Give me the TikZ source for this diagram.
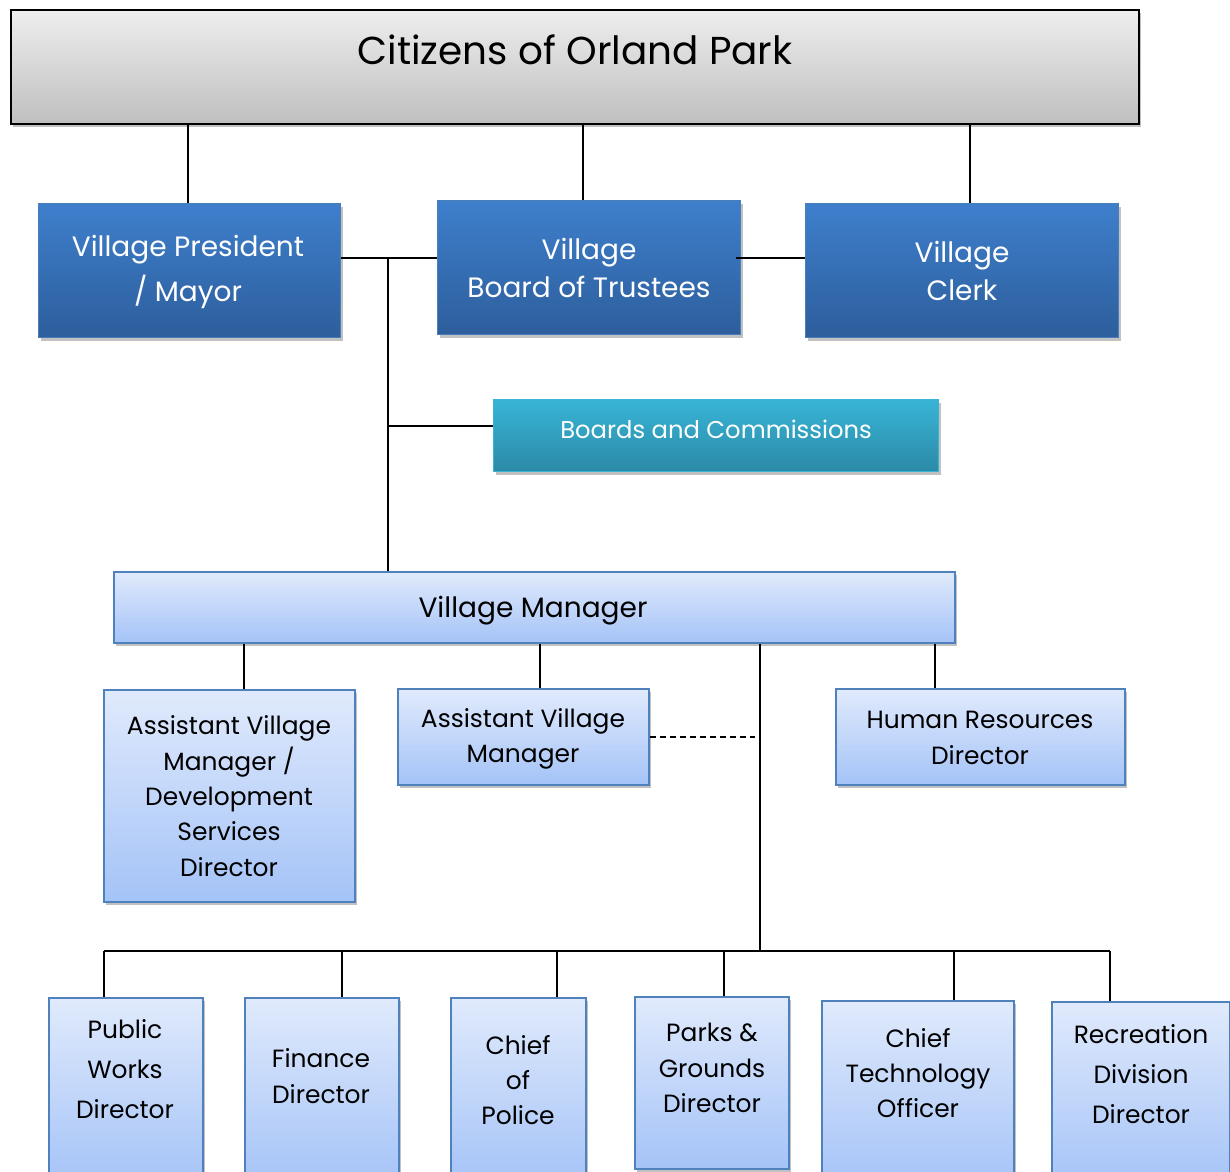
\documentclass[tikz,border=0pt]{standalone}
\usepackage{fontspec}
\setmainfont{Poppins}
\usetikzlibrary{shadows,calc}
\definecolor{dbtop}{HTML}{3E7FCC}
\definecolor{dbbot}{HTML}{2D5E9C}
\definecolor{dbline}{HTML}{4A7EBB}
\definecolor{cytop}{HTML}{38B4D6}
\definecolor{cybot}{HTML}{2B8AA6}
\definecolor{lbtop}{HTML}{E0EAFC}
\definecolor{lbbot}{HTML}{A4C3F7}
\definecolor{lbline}{HTML}{4F81BD}
\definecolor{grtop}{HTML}{EEEEEE}
\definecolor{grbot}{HTML}{BFBFBF}
\begin{document}
\begin{tikzpicture}[x=0.75pt,y=-0.75pt,
  shad/.style={drop shadow={shadow xshift=1.5pt,shadow yshift=-2.2pt,opacity=0.35,fill=black!70}},
  basebox/.style={rectangle,anchor=north west,inner sep=0pt,shad},
  graybox/.style={basebox,draw=black,line width=1.5pt,top color=grtop,bottom color=grbot},
  darkbox/.style={basebox,draw=dbline,line width=1pt,top color=dbtop,bottom color=dbbot},
  cyanbox/.style={basebox,draw=cytop,line width=1pt,top color=cytop,bottom color=cybot},
  lightbox/.style={basebox,draw=lbline,line width=1.5pt,top color=lbtop,bottom color=lbbot},
  wtxt/.style={text=white,align=center,font=\fontsize{21}{29}\selectfont},
  btxt/.style={text=black,align=center,font=\fontsize{18.7}{26.5}\selectfont},
  conn/.style={draw=black,line width=1.4pt},
]
\useasboundingbox (0,0) rectangle (1230,1171);
% boxes
\node[graybox,minimum width=846pt,minimum height=85.5pt] (cit) at (10,9) {};
\node[darkbox,minimum width=226.5pt,minimum height=100.5pt] (vp) at (38,203) {};
\node[darkbox,minimum width=227.25pt,minimum height=100.5pt] (bot) at (437,200) {};
\node[darkbox,minimum width=234.75pt,minimum height=100.5pt] (clerk) at (805,203) {};
\node[cyanbox,minimum width=333.75pt,minimum height=54pt] (bc) at (493,399) {};
\node[lightbox,minimum width=630.75pt,minimum height=53.25pt] (vm) at (113,571) {};
\node[lightbox,minimum width=188.25pt,minimum height=159pt] (avmd) at (103,689) {};
\node[lightbox,minimum width=188.25pt,minimum height=72pt] (avm) at (397,688) {};
\node[lightbox,minimum width=216.75pt,minimum height=72pt] (hr) at (835,688) {};
\node[lightbox,minimum width=115.5pt,minimum height=140pt] (pw) at (48,997) {};
\node[lightbox,minimum width=115.5pt,minimum height=140pt] (fin) at (244,997) {};
\node[lightbox,minimum width=101.25pt,minimum height=140pt] (pol) at (450,997) {};
\node[lightbox,minimum width=115.5pt,minimum height=129pt] (parks) at (634,996) {};
\node[lightbox,minimum width=144pt,minimum height=140pt] (cto) at (821,1000) {};
\node[lightbox,minimum width=133.5pt,minimum height=140pt] (rec) at (1051,1001) {};
% texts
\node[text=black,font=\fontsize{29.2}{34}\selectfont] (citt) at (575,50) {Citizens of Orland Park};
\node[wtxt,font=\fontsize{21}{33.75}\selectfont] (vpt) at (188,272) {Village President\\/ Mayor};
\node[wtxt] (bott) at (589,268) {Village\\Board of Trustees};
\node[wtxt] (clerkt) at (962,271) {Village\\Clerk};
\node[text=white,font=\fontsize{18.2}{24}\selectfont] (bct) at (716,429) {Boards and Commissions};
\node[text=black,font=\fontsize{21}{26}\selectfont] (vmt) at (533,611) {Village Manager};
\node[btxt] (avmdt) at (229,796) {Assistant Village\\Manager /\\Development\\Services\\Director};
\node[btxt] (avmt) at (523,739) {Assistant Village\\Manager};
\node[btxt] (hrt) at (980,738) {Human Resources\\Director};
\node[btxt,font=\fontsize{18.7}{30}\selectfont] (pwt) at (125,1069) {Public\\Works\\Director};
\node[btxt] (fint) at (321,1076) {Finance\\Director};
\node[btxt] (polt) at (518,1080) {Chief\\of\\Police};
\node[btxt] (parkst) at (712,1068) {Parks \&\\Grounds\\Director};
\node[btxt] (ctot) at (918,1073) {Chief\\Technology\\Officer};
\node[btxt,font=\fontsize{18.7}{30}\selectfont] (rect) at (1141,1074) {Recreation\\Division\\Director};
% junction coordinates
\coordinate (c1) at (188,0);
\coordinate (c2) at (583,0);
\coordinate (c3) at (970,0);
\coordinate (sp) at (388,258);
\coordinate (bcj) at (388,426);
\coordinate (m1) at (244,0);
\coordinate (m2) at (540,0);
\coordinate (m3) at (935,0);
\coordinate (dsp) at (760,951);
\coordinate (dashend) at (755,737);
\coordinate (d1) at (104,951);
\coordinate (d2) at (342,951);
\coordinate (d3) at (557,951);
\coordinate (d4) at (724,951);
\coordinate (d5) at (954,951);
\coordinate (d6) at (1110,951);
% connectors
\draw[conn] (c1 |- cit.south) -- (c1 |- vp.north);
\draw[conn] (c2 |- cit.south) -- (c2 |- bot.north);
\draw[conn] (c3 |- cit.south) -- (c3 |- clerk.north);
\draw[conn] (vp.east |- sp) -- (bot.west |- sp);
\draw[conn] ([xshift=-4pt]bot.east |- sp) -- (clerk.west |- sp);
\draw[conn] (sp) -- (sp |- vm.north);
\draw[conn] (bcj) -- (bc.west |- bcj);
\draw[conn] (m1 |- vm.south) -- (m1 |- avmd.north);
\draw[conn] (m2 |- vm.south) -- (m2 |- avm.north);
\draw[conn] (m3 |- vm.south) -- (m3 |- hr.north);
\draw[conn] (dsp |- vm.south) -- (dsp);
\draw[conn,dashed,line width=1pt,dash pattern=on 4.5pt off 3pt] (avm.east |- dashend) -- (dashend);
\draw[conn] (d1) -- (d6);
\draw[conn] (d1) -- (d1 |- pw.north);
\draw[conn] (d2) -- (d2 |- fin.north);
\draw[conn] (d3) -- (d3 |- pol.north);
\draw[conn] (d4) -- (d4 |- parks.north);
\draw[conn] (d5) -- (d5 |- cto.north);
\draw[conn] (d6) -- (d6 |- rec.north);
\end{tikzpicture}
\end{document}
